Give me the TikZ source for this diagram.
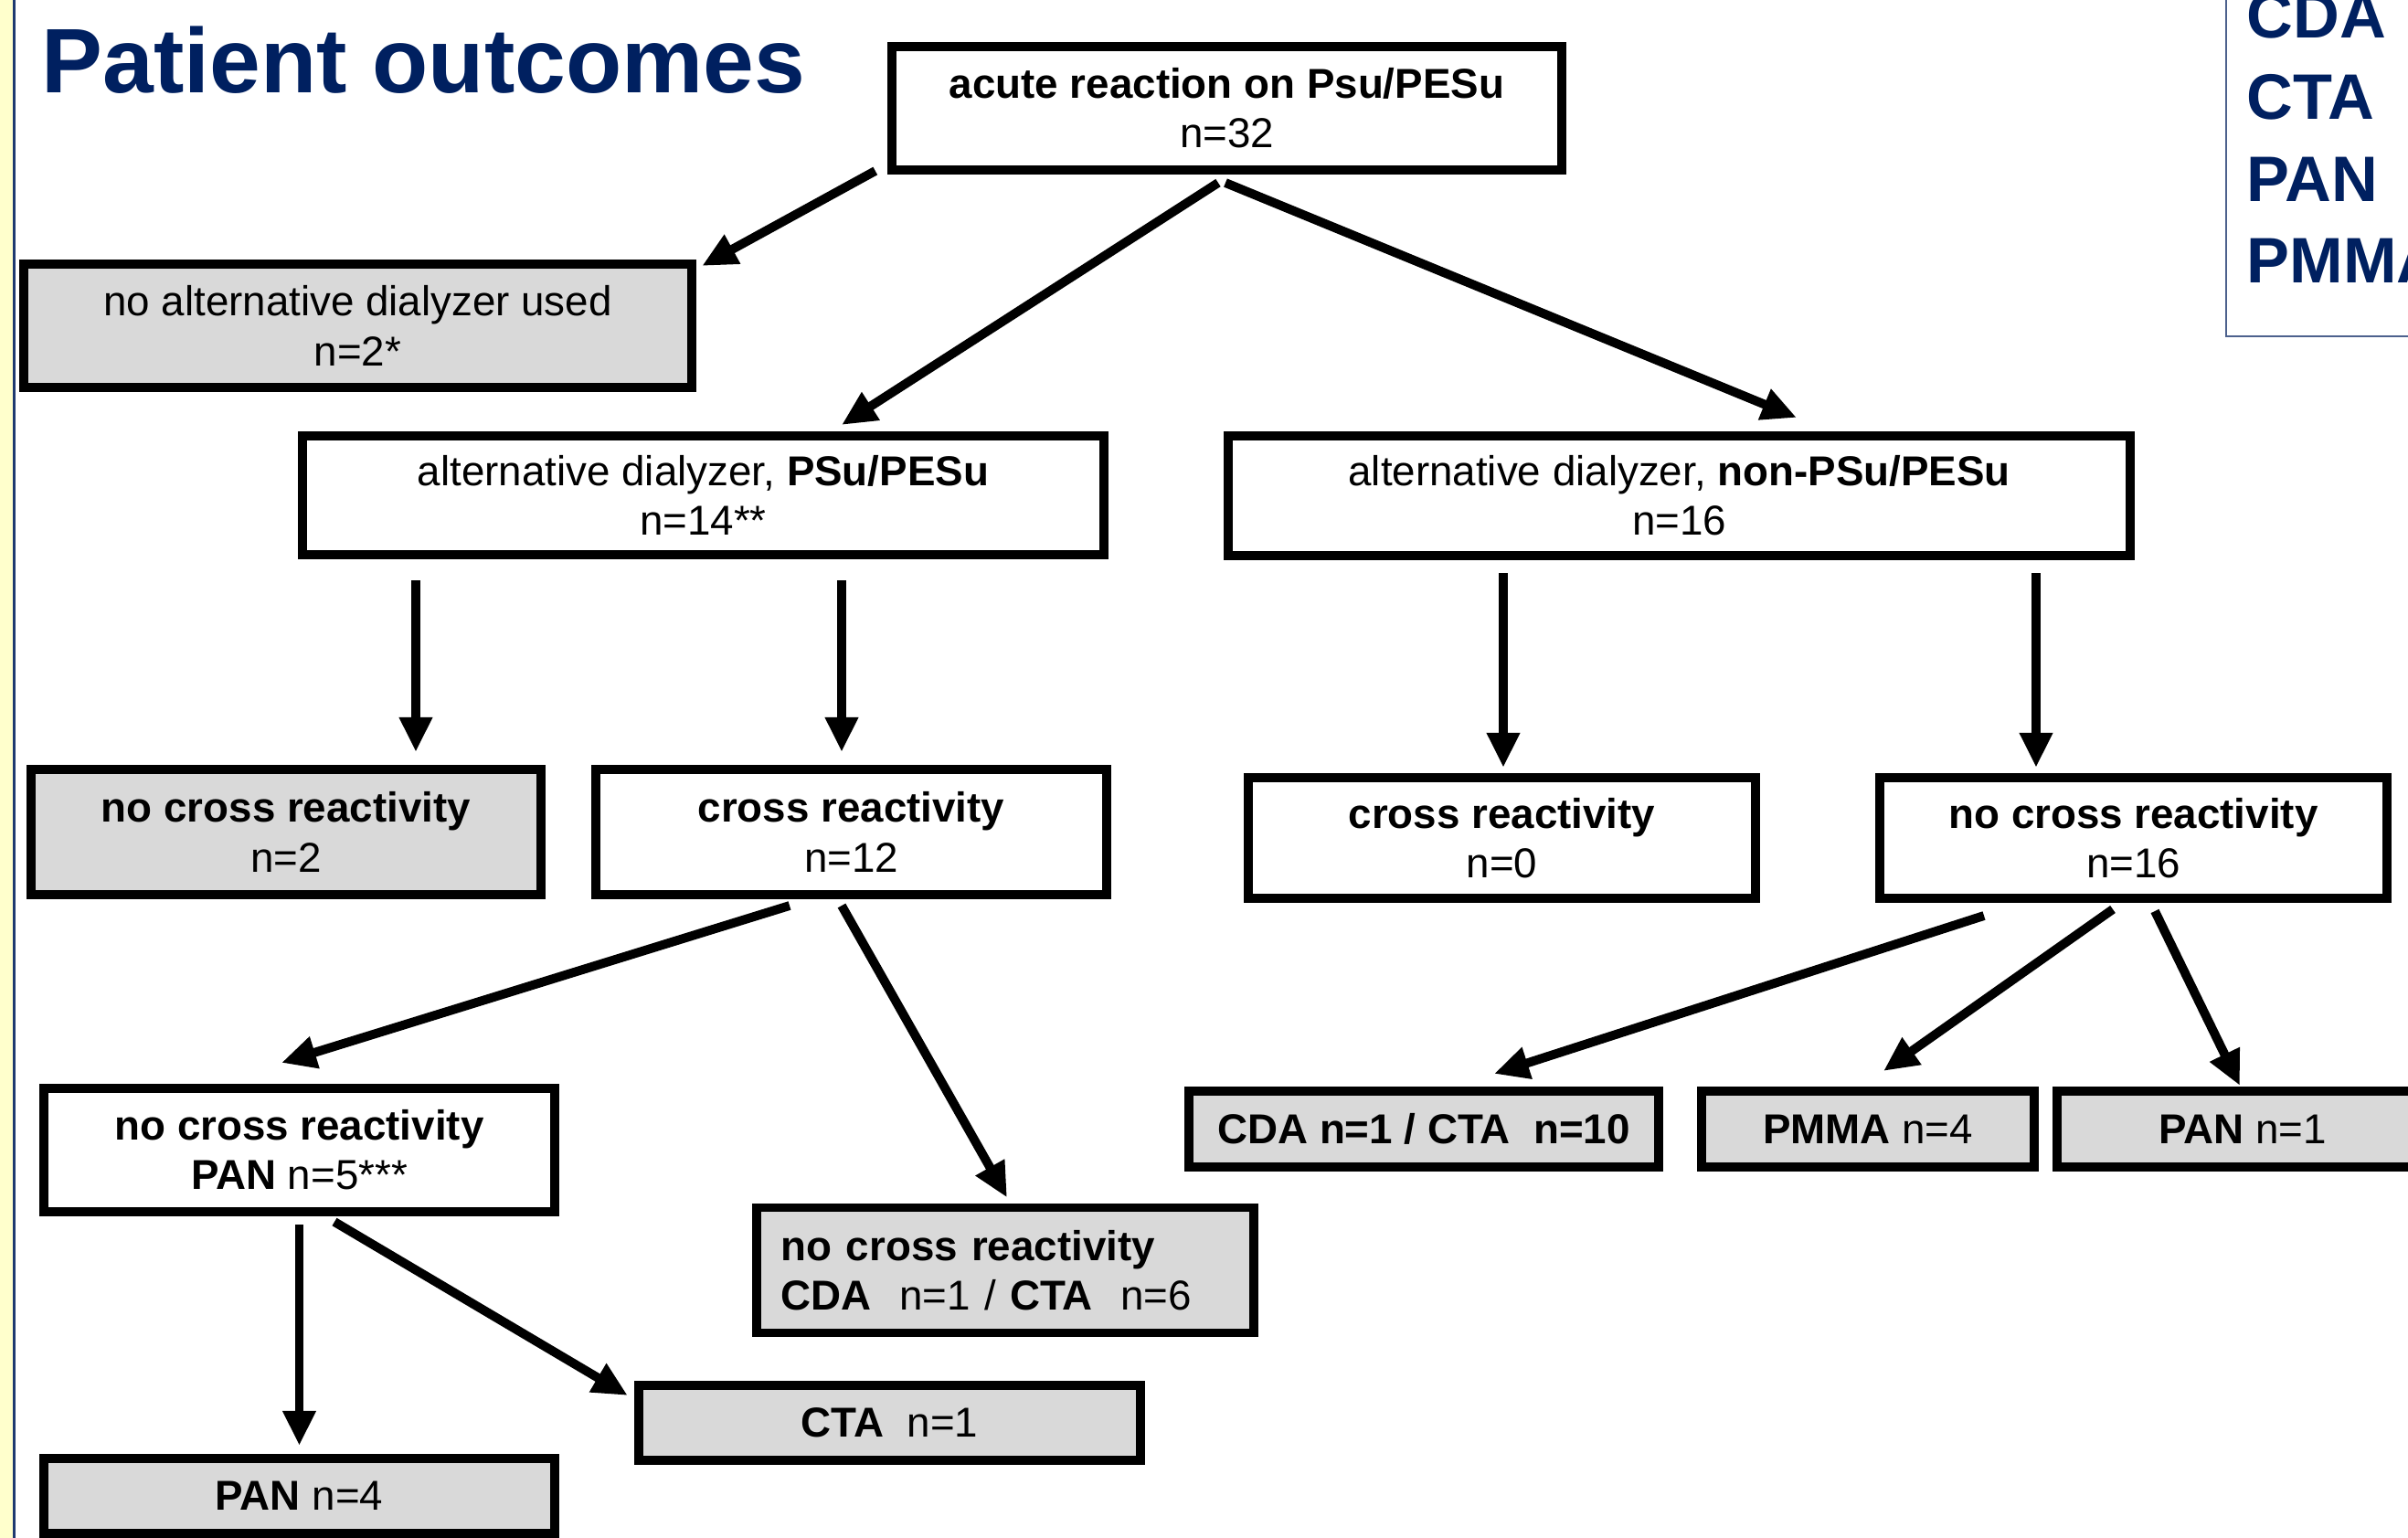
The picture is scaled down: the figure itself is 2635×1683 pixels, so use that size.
\documentclass[tikz,border=0pt]{standalone}
\usepackage{fontspec}
\setmainfont{Liberation Sans}
\usetikzlibrary{arrows.meta}
\definecolor{navy}{HTML}{002060}
\definecolor{boxgrey}{HTML}{D9D9D9}
\definecolor{sideyellow}{HTML}{FFFFCC}
\definecolor{sideblue}{HTML}{1F3A70}

\begin{document}
\begin{tikzpicture}[x=0.01cm,y=-0.01cm,
  box/.style={draw=black,line width=2.8pt,outer sep=0pt,inner sep=0pt,align=center,font=\fontsize{13}{15.4}\selectfont},
  greybox/.style={box,fill=boxgrey},
  arr/.style={line width=2.8pt,-{Triangle[length=0.38cm,width=0.34cm]}}]
\useasboundingbox (0,0) rectangle (2635,1683);
\clip (0,0) rectangle (2635,1683);
\fill[white] (0,0) rectangle (2635,1683);
\fill[sideyellow] (0,0) rectangle (14,1683);
\draw[sideblue,line width=0.9pt] (15.5,0) -- (15.5,1683);

\node[anchor=base west,inner sep=0pt,text=navy,font=\fontsize{28.5}{34}\selectfont\bfseries] (title) at (45,102) {Patient outcomes};

\draw[sideblue!80,line width=0.6pt] (2436,-20) rectangle (2700,368);
\foreach \i/\lbl/\y in {1/CDA/42,2/CTA/131,3/PAN/221,4/PMMA/310}
  \node[anchor=base west,inner sep=0pt,text=navy,font=\fontsize{20}{24}\selectfont\bfseries] (leg\i) at (2458,\y) {\lbl};

\begin{scope}[every node/.style={box}]
  \node[minimum width=7.33cm,minimum height=1.35cm] (acute) at (1342.5,118.5) {\textbf{acute reaction on Psu/PESu}\\n=32};
  \node[greybox,minimum width=7.31cm,minimum height=1.35cm] (noalt) at (391.5,356.5) {no alternative dialyzer used\\n=2*};
  \node[minimum width=8.77cm,minimum height=1.30cm] (altpsu) at (769.5,542) {alternative dialyzer, \textbf{PSu/PESu}\\n=14**};
  \node[minimum width=9.87cm,minimum height=1.31cm] (altnon) at (1837.5,542.5) {alternative dialyzer, \textbf{non-PSu/PESu}\\n=16};
  \node[greybox,minimum width=5.58cm,minimum height=1.37cm] (nocr2) at (313,910.5) {\textbf{no cross reactivity}\\n=2};
  \node[minimum width=5.59cm,minimum height=1.37cm] (cr12) at (931.5,910.5) {\textbf{cross reactivity}\\n=12};
  \node[minimum width=5.55cm,minimum height=1.32cm] (cr0) at (1643.5,917) {\textbf{cross reactivity}\\n=0};
  \node[minimum width=5.55cm,minimum height=1.32cm] (nocr16) at (2334.5,917) {\textbf{no cross reactivity}\\n=16};
  \node[minimum width=5.59cm,minimum height=1.35cm] (nocrpan) at (327.5,1258.5) {\textbf{no cross reactivity}\\\textbf{PAN} n=5***};
  \node[greybox,align=left,text width=4.9cm,minimum width=5.44cm,minimum height=1.37cm] (nocrcda) at (1100,1390) {\textbf{no cross reactivity}\\\textbf{CDA}\ \ n=1 / \textbf{CTA}\ \ n=6};
  \node[greybox,minimum width=5.49cm,minimum height=0.82cm] (cta1) at (973.5,1557) {\textbf{CTA}\ \ n=1};
  \node[greybox,minimum width=5.59cm,minimum height=0.82cm] (pan4) at (327.5,1637) {\textbf{PAN} n=4};
  \node[greybox,minimum width=5.14cm,minimum height=0.83cm] (cdacta) at (1558,1235.5) {\textbf{CDA n=1 / CTA\ \ n=10}};
  \node[greybox,minimum width=3.64cm,minimum height=0.83cm] (pmma) at (2044,1235.5) {\textbf{PMMA} n=4};
  \node[greybox,minimum width=4.06cm,minimum height=0.83cm] (pan1) at (2454,1235.5) {\textbf{PAN} n=1};
\end{scope}

\draw ([shift={(-18,1)}]acute.south west) edge[arr] ([shift={(11,2)}]noalt.north east);
\draw ([shift={(-9.5,14)}]acute.south) edge[arr] ([shift={(151.5,-12)}]altpsu.north);
\draw ([shift={(-1.5,14)}]acute.south) edge[arr] ([shift={(128.5,-20)}]altnon.north);
\draw ([shift={(-314.5,28)}]altpsu.south) edge[arr] ([shift={(142,-19)}]nocr2.north);
\draw ([shift={(151.5,28)}]altpsu.south) edge[arr] ([shift={(-10.5,-19)}]cr12.north);
\draw ([shift={(-192.5,19)}]altnon.south) edge[arr] ([shift={(1.5,-11)}]cr0.north);
\draw ([shift={(390.5,19)}]altnon.south) edge[arr] ([shift={(-106.5,-11)}]nocr16.north);
\draw ([shift={(-67.5,12)}]cr12.south) edge[arr] ([shift={(-19.5,-28)}]nocrpan.north);
\draw ([shift={(-10.5,12)}]cr12.south) edge[arr] ([shift={(2,-11)}]nocrcda.north);
\draw ([shift={(-163.5,19)}]nocr16.south) edge[arr] ([shift={(77,-19)}]cdacta.north);
\draw ([shift={(-22.5,12)}]nocr16.south) edge[arr] ([shift={(17,-22)}]pmma.north);
\draw ([shift={(23.5,14)}]nocr16.south) edge[arr] ([shift={(-3,-6)}]pan1.north);
\draw ([shift={(0,14)}]nocrpan.south) edge[arr] ([shift={(0,-14)}]pan4.north);
\draw ([shift={(38.5,11)}]nocrpan.south) edge[arr] ([shift={(-12,11)}]cta1.north west);
\end{tikzpicture}
\end{document}
